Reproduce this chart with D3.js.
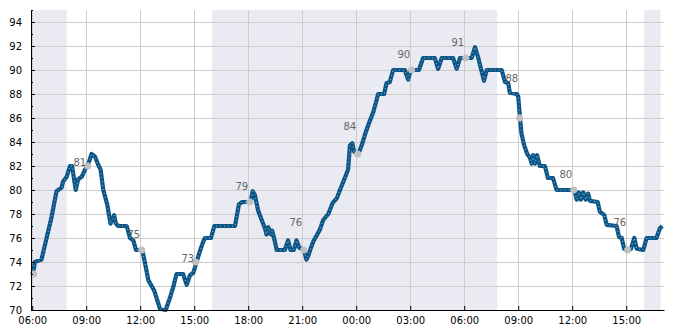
<!DOCTYPE html>
<html>
<head>
<meta charset="utf-8">
<script src="https://cdn.jsdelivr.net/npm/d3@7"></script>
<style>
  html, body { margin: 0; padding: 0; background: #fff; }
  svg { display: block; font-family: "DejaVu Sans", sans-serif; }
</style>
</head>
<body>
<svg id="chart" width="685" height="330"></svg>
<script>
// ---- data (minutes after 06:00 on day 1, value) ----
const minutes = [0,6,9,31,48,65,81,98,103,115,126,133,145,153,165,176,186,198,209,220,228,237,250,261,268,273,279,287,315,326,337,346,367,376,387,398,407,426,445,459,470,481,503,515,526,537,548,559,570,576,596,607,676,689,700,720,728,735,742,753,765,776,781,787,795,800,809,815,842,853,861,872,881,890,906,914,920,928,937,950,959,970,987,1001,1015,1026,1042,1053,1059,1067,1073,1087,1098,1109,1120,1137,1148,1153,1173,1181,1192,1203,1242,1253,1262,1289,1303,1342,1353,1365,1403,1415,1426,1465,1476,1487,1498,1506,1515,1565,1576,1587,1592,1615,1620,1626,1631,1639,1650,1659,1665,1670,1676,1683,1692,1709,1719,1736,1748,1798,1807,1815,1822,1829,1837,1845,1853,1859,1885,1892,1907,1915,1948,1956,1965,1973,1987,1996,2007,2015,2037,2048,2081,2092,2100];
const values = [73.0,73.5,74.0,74.2,76.0,77.8,79.9,80.2,80.7,81.1,82.0,82.0,80.0,80.9,81.1,81.7,82.1,83.0,82.8,82.1,81.7,80.0,78.8,77.2,77.6,77.9,77.2,77.0,77.0,76.0,75.8,75.0,75.0,73.9,72.5,72.0,71.6,70.1,70.0,71.0,71.9,73.0,73.0,72.1,72.9,73.1,74.0,74.9,75.7,76.0,76.0,77.0,77.0,78.8,79.0,79.0,79.0,79.9,79.6,78.3,77.5,76.8,76.3,76.9,76.3,76.6,75.7,75.0,75.0,75.8,75.0,75.0,75.8,75.2,75.0,74.2,74.5,75.1,75.7,76.3,76.7,77.5,78.0,78.9,79.3,80.0,81.0,81.7,83.7,83.9,83.2,83.0,83.7,84.6,85.4,86.5,87.5,88.0,88.0,88.9,89.0,90.0,90.0,89.2,90.0,90.0,91.0,91.0,90.1,91.0,91.0,90.1,91.0,91.0,91.9,91.0,89.9,89.1,90.0,90.0,89.0,88.9,88.1,88.0,87.8,86.0,84.7,83.8,83.0,82.7,82.2,82.9,82.2,82.9,82.0,82.0,81.0,81.0,80.0,80.0,80.0,79.2,79.8,79.2,79.8,79.2,79.7,79.1,79.0,78.2,77.9,77.1,77.0,76.1,76.0,75.1,75.0,75.1,76.0,75.1,75.0,76.0,76.0,76.8,77.0];

// marked samples every 3 hours (minutes after 06:00 day 1)
const markMinutes = [5,185,365,545,725,905,1085,1265,1445,1625,1805,1985];
const markValues  = [73,82,75,74,79,75,83,90,91,86,80,75];
const markLabels  = [null,"81","75","73","79","76","84","90","91","88","80","76"];
const labelMinutes = [0,180,360,540,720,900,1080,1260,1440,1620,1800,1980];

// shaded periods (minutes after 06:00 day 1)
const shadeStart = [-4,600,2040];
const shadeEnd   = [115,1550,2095];

// axis
const xDomainMin = [-4, 2106];
const yDomain = [70, 95];
const yMajorTicks = [70,72,74,76,78,80,82,84,86,88,90,92,94];

// ---- drawing ----
const base = new Date(2024, 0, 1, 6, 0, 0);
const toDate = m => new Date(base.getTime() + m * 60000);

const svg = d3.select("#chart");
const pL = 31, pR = 664, pT = 10, pB = 310;

const x = d3.scaleTime().domain(xDomainMin.map(toDate)).range([pL, pR]);
const y = d3.scaleLinear().domain(yDomain).range([pB, pT]);

// shading
svg.append("g").selectAll("rect")
  .data(shadeStart.map((s, i) => [s, shadeEnd[i]]))
  .join("rect")
  .attr("x", d => x(toDate(d[0])))
  .attr("width", d => x(toDate(d[1])) - x(toDate(d[0])))
  .attr("y", pT).attr("height", pB - pT)
  .attr("fill", "#eaeaf2");

const xTicks = x.ticks(d3.timeHour.every(3)).filter(t => t >= x.domain()[0] && t <= x.domain()[1]);

// grid
const grid = svg.append("g").attr("stroke", "#cccccc").attr("stroke-width", 1);
grid.selectAll("line.v").data(xTicks).join("line").attr("class", "v")
  .attr("x1", d => Math.round(x(d)) + 0.5).attr("x2", d => Math.round(x(d)) + 0.5)
  .attr("y1", pT).attr("y2", pB);
grid.selectAll("line.h").data(yMajorTicks.filter(v => v > yDomain[0])).join("line").attr("class", "h")
  .attr("x1", pL).attr("x2", pR)
  .attr("y1", d => Math.round(y(d)) + 0.5).attr("y2", d => Math.round(y(d)) + 0.5);

// line
const data = minutes.map((m, i) => ({ t: toDate(m), v: values[i] }));
const line = d3.line().x(d => x(d.t)).y(d => y(d.v));
svg.append("path").datum(data)
  .attr("d", line)
  .attr("fill", "none")
  .attr("stroke", "#0a5586")
  .attr("stroke-width", 4.2)
  .attr("stroke-linejoin", "round");
svg.append("path").datum(data)
  .attr("d", line)
  .attr("fill", "none")
  .attr("stroke", "#b9d3e6")
  .attr("stroke-width", 0.9)
  .attr("stroke-dasharray", "0.9,3.1");

// marks
svg.append("g").selectAll("circle")
  .data(markMinutes.map((m, i) => ({ t: toDate(m), v: markValues[i] })))
  .join("circle")
  .attr("cx", d => x(d.t)).attr("cy", d => y(d.v))
  .attr("r", 3.5).attr("fill", "#c0c0c0");

svg.append("g").selectAll("text")
  .data(labelMinutes.map((m, i) => ({ t: toDate(m), lab: markLabels[i] })).filter(d => d.lab !== null))
  .join("text")
  .attr("x", d => x(d.t))
  .attr("y", d => y(+d.lab + 1))
  .attr("text-anchor", "end")
  .attr("font-size", 10)
  .attr("fill", "#666666")
  .text(d => d.lab);

// axes
const fmt = d3.timeFormat("%H:%M");
const xAxis = d3.axisBottom(x).tickValues(xTicks).tickFormat(fmt).tickSizeInner(-4).tickSizeOuter(0).tickPadding(7);
const gx = svg.append("g").attr("transform", `translate(0,${pB})`).call(xAxis);
gx.selectAll("text").attr("font-size", 10).attr("fill", "#000").attr("font-family", "DejaVu Sans");
gx.select(".domain").attr("stroke", "#000");
gx.selectAll(".tick line").attr("stroke", "#000");

const yMinor = d3.range(yDomain[0], yDomain[1] + 0.001, 1).filter(v => !yMajorTicks.includes(v));
const gyMinor = svg.append("g").attr("transform", `translate(${pL},0)`)
  .call(d3.axisLeft(y).tickValues(yMinor).tickFormat("").tickSizeInner(-2).tickSizeOuter(0));
gyMinor.select(".domain").remove();
gyMinor.selectAll(".tick line").attr("stroke", "#000");

const yAxis = d3.axisLeft(y).tickValues(yMajorTicks).tickFormat(d3.format("d")).tickSizeInner(-4).tickSizeOuter(0).tickPadding(9);
const gy = svg.append("g").attr("transform", `translate(${pL},0)`).call(yAxis);
gy.selectAll("text").attr("font-size", 10).attr("fill", "#000").attr("font-family", "DejaVu Sans");
gy.select(".domain").attr("stroke", "#000");
gy.selectAll(".tick line").attr("stroke", "#000");
</script>
</body>
</html>
